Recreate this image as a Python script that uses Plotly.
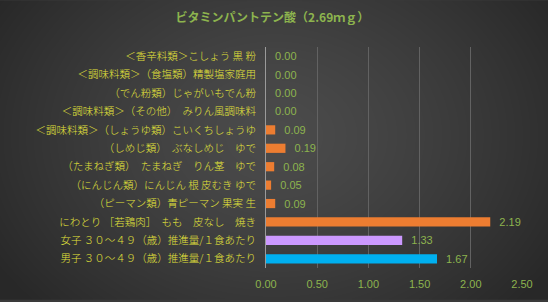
import base64, struct, zlib
import numpy as np
import plotly.graph_objects as go

categories = [
    "＜香辛料類＞こしょう 黒 粉",
    "＜調味料類＞（食塩類）精製塩家庭用",
    "（でん粉類）じゃがいもでん粉",
    "＜調味料類＞（その他）　みりん風調味料",
    "＜調味料類＞（しょうゆ類）こいくちしょうゆ",
    "（しめじ類）　ぶなしめじ　ゆで",
    "（たまねぎ類）　たまねぎ　りん茎　ゆで",
    "（にんじん類）にんじん 根 皮むき ゆで",
    "（ピーマン類）青ピーマン 果実 生",
    "にわとり ［若鶏肉］　もも　皮なし　焼き",
    "女子 ３０～４９（歳）推進量/１食あたり",
    "男子 ３０～４９（歳）推進量/１食あたり",
]
values = [0.00, 0.00, 0.00, 0.00, 0.09, 0.19, 0.08, 0.05, 0.09, 2.19, 1.33, 1.67]
bar_colors = ["#ED7D31"] * 10 + ["#CC99FF", "#00B0F0"]
title_text = "ビタミンパントテン酸（2.69ｍｇ）"
x_ticks = [0, 0.5, 1.0, 1.5, 2.0, 2.5]

W, H = 548, 302


def gradient_png(w, h):
    yy, xx = np.mgrid[0:h, 0:w]
    cx, cy = w * 0.5, h * 0.45
    d = np.sqrt(((xx - cx) / (w * 0.6)) ** 2 + ((yy - cy) / (h * 0.85)) ** 2)
    d = np.clip(d, 0, 1)
    v = (76 - 36 * d ** 1.3).astype(np.uint8)
    raw = b"".join(b"\x00" + bytes(np.stack([v[r]] * 3, axis=1).flatten()) for r in range(h))

    def chunk(t, data):
        c = struct.pack(">I", len(data)) + t + data
        return c + struct.pack(">I", zlib.crc32(t + data) & 0xFFFFFFFF)

    png = b"\x89PNG\r\n\x1a\n" + chunk(b"IHDR", struct.pack(">IIBBBBB", w, h, 8, 2, 0, 0, 0))
    png += chunk(b"IDAT", zlib.compress(raw, 9)) + chunk(b"IEND", b"")
    return "data:image/png;base64," + base64.b64encode(png).decode()


fig = go.Figure(
    go.Bar(
        x=values,
        y=categories,
        orientation="h",
        marker=dict(color=bar_colors, line=dict(width=0)),
        width=0.5,
        text=["\u00a0\u00a0" + f"{v:.2f}" for v in values],
        textposition="outside",
        constraintext="none",
        cliponaxis=False,
        textfont=dict(color="#8DB44E", size=11, family="Liberation Sans, Arial"),
    )
)

fig.update_layout(
    width=W,
    height=H,
    margin=dict(l=266, r=26, t=47, b=32),
    paper_bgcolor="#3a3a3a",
    plot_bgcolor="rgba(0,0,0,0)",
    showlegend=False,
    uniformtext=dict(mode=False),
    title=dict(
        text="<b>" + title_text + "</b>",
        x=0.497,
        xanchor="center",
        y=0.94,
        yanchor="middle",
        font=dict(color="#8DB44E", size=12, family="Noto Sans CJK JP"),
    ),
    images=[
        dict(
            source=gradient_png(W, H),
            xref="paper",
            yref="paper",
            x=-266 / (W - 266 - 26),
            y=1 + 47 / (H - 47 - 32),
            sizex=W / (W - 266 - 26),
            sizey=H / (H - 47 - 32),
            sizing="stretch",
            layer="below",
            xanchor="left",
            yanchor="top",
        )
    ],
    xaxis=dict(
        range=[0, 2.5],
        tickvals=x_ticks,
        ticktext=[f"{t:.2f}" for t in x_ticks],
        showgrid=True,
        gridcolor="#626262",
        gridwidth=1,
        zeroline=False,
        showline=False,
        ticks="",
        ticklabelstandoff=8,
        tickfont=dict(color="#8DB44E", size=11, family="Liberation Sans, Arial"),
        fixedrange=True,
    ),
    yaxis=dict(
        autorange="reversed",
        showgrid=False,
        showline=True,
        linecolor="#9a9a9a",
        linewidth=1,
        ticks="",
        ticklabelstandoff=7,
        tickfont=dict(color="#E2E23A", size=10.5, family="Noto Sans CJK JP", weight=300),
        fixedrange=True,
    ),
    bargap=0.5,
)

fig.write_html("out.html")
